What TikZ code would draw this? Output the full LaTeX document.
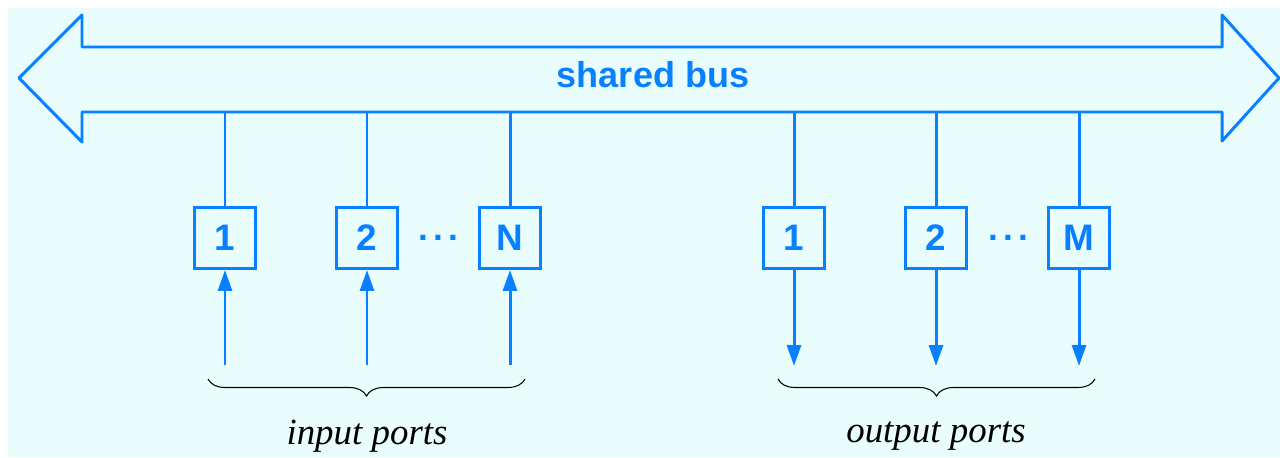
\documentclass[tikz,border=0pt]{standalone}
\usepackage{fontspec}
\setmainfont{Liberation Serif}
\setsansfont{Liberation Sans}
\usetikzlibrary{arrows.meta,decorations.pathreplacing}

\definecolor{busblue}{RGB}{8,128,255}
\definecolor{paper}{RGB}{234,253,253}

\tikzset{
	wire/.style={busblue,line width=1.7pt},
	port/.style={draw=busblue,line width=1.7pt,minimum size=1.22cm,inner sep=0pt,
		text=busblue,font=\sffamily\bfseries\fontsize{21}{21}\selectfont},
	head/.style={-{Triangle[length=0.42cm,width=0.28cm]}},
	group/.style={decorate,decoration={brace,mirror,amplitude=0.34cm},line width=0.6pt},
	tag/.style={font=\itshape\fontsize{21}{21}\selectfont}
}

\begin{document}
\begin{tikzpicture}[x=0.02cm,y=-0.02cm]
		\useasboundingbox (0,0) rectangle (1280,457);
		\fill[white] (0,0) rectangle (1280,457);
		\fill[paper] (8,8) rectangle (1280,457);
		% the bus, a double arrow
		\draw[wire,line join=round] (19,78) -- (82,15) -- (82,47) -- (1222,47) -- (1222,15) -- (1279,78)
			-- (1222,141) -- (1222,112) -- (82,112) -- (82,142) -- cycle;
		\node (bus) at (653,75) [text=busblue,font=\sffamily\bfseries\fontsize{20.5}{20.5}\selectfont] {shared bus};
		\coordinate (busbot) at (0,112);
		% input side
		\foreach \n/\x/\t in {in1/225/1, in2/367/2, inN/510/N} {
			\node[port] (\n) at (\x,238) {\t};
			\coordinate (\n src) at (\x,365);
			\draw[wire] (\n.north) -- (\n.north |- busbot);
			\draw[wire,head] (\n src) -- (\n.south);
		}
		% output side
		\foreach \n/\x/\t in {out1/794/1, out2/936/2, outM/1079/M} {
			\node[port] (\n) at (\x,238) {\t};
			\coordinate (\n dst) at (\x,366);
			\draw[wire] (\n.north) -- (\n.north |- busbot);
			\draw[wire,head] (\n.south) -- (\n dst);
		}
		\node (indots) at (438,238) [text=busblue,font=\sffamily\bfseries\fontsize{20}{20}\selectfont] {.\hspace{3pt}.\hspace{3pt}.};
		\node (outdots) at (1008,238) [text=busblue,font=\sffamily\bfseries\fontsize{20}{20}\selectfont] {.\hspace{3pt}.\hspace{3pt}.};
		% braces and their labels
		\coordinate (inL) at (208,379);
		\coordinate (inR) at (525,379);
		\coordinate (outL) at (778,379);
		\coordinate (outR) at (1095,379);
		\draw[group] (inL) -- (inR);
		\draw[group] (outL) -- (outR);
		\node[tag] (inlabel) at (367,436) {input ports};
		\node[tag] (outlabel) at (936,436) {output ports};
\end{tikzpicture}
\end{document}
